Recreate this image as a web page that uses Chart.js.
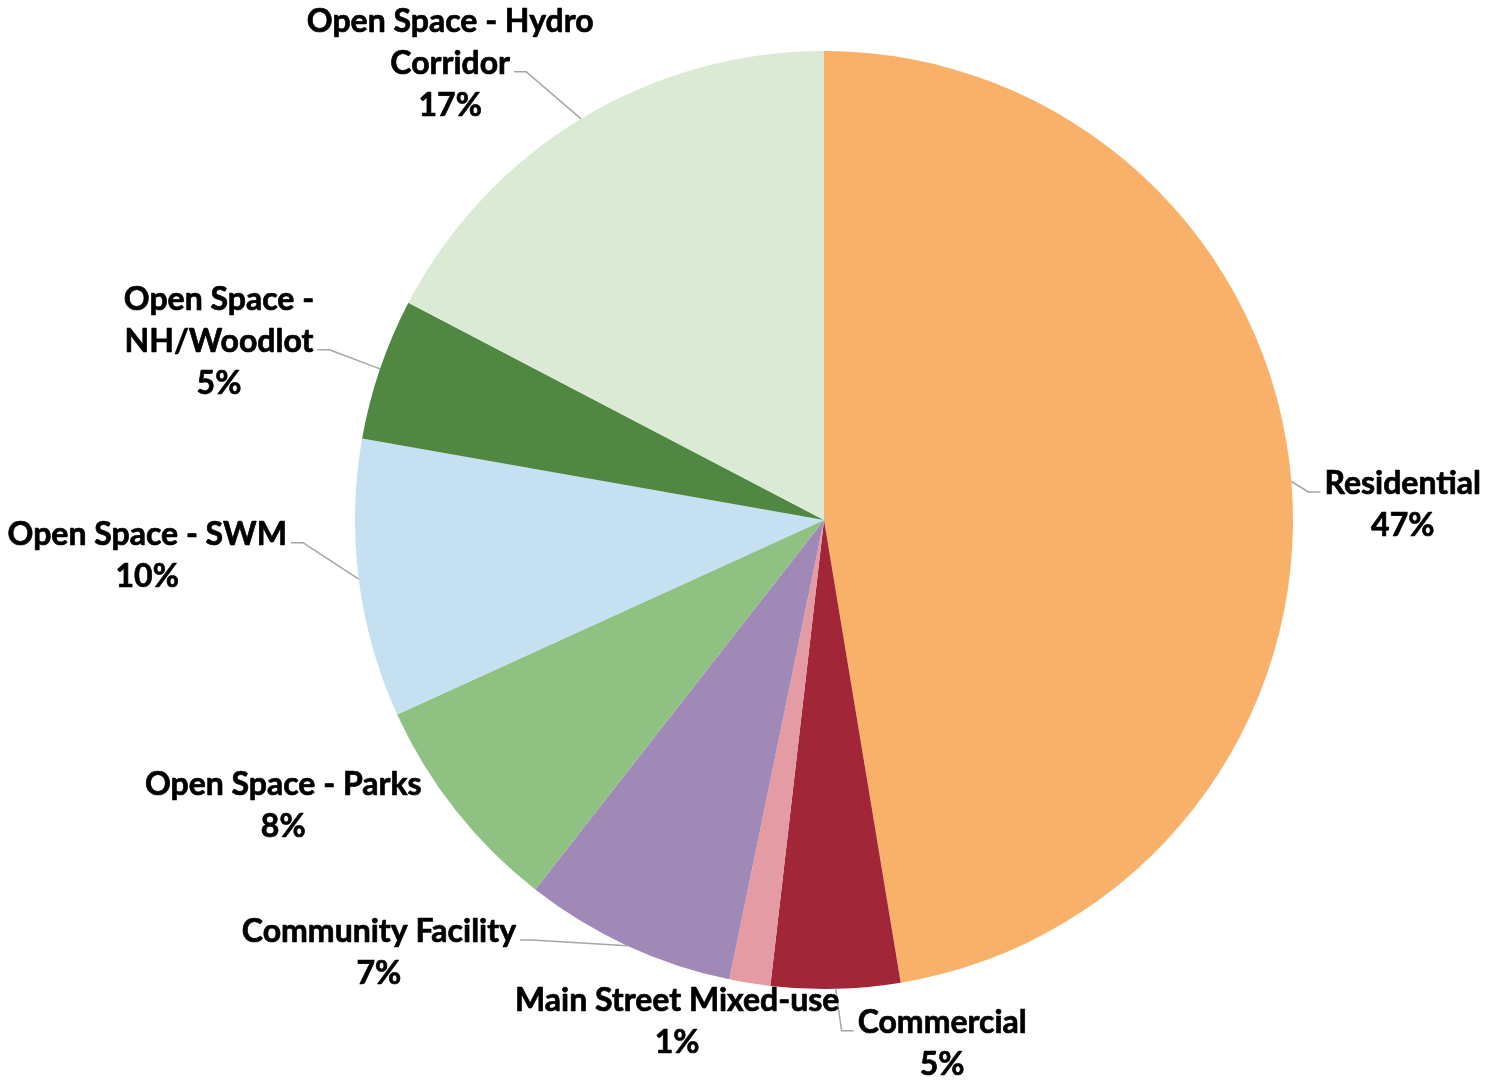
<!DOCTYPE html>
<html>
<head>
<meta charset="utf-8">
<script src="https://cdn.jsdelivr.net/npm/chart.js@4/dist/chart.umd.min.js"></script>
<style>
  html, body { margin: 0; padding: 0; background: #ffffff; }
  #wrap { width: 1485px; height: 1081px; }
</style>
</head>
<body>
<div id="wrap"><canvas id="c" width="1485" height="1081"></canvas></div>
<script>
// ---- data ----
const categories = ['Residential', 'Commercial', 'Main Street Mixed-use', 'Community Facility',
  'Open Space - Parks', 'Open Space - SWM', 'Open Space - NH/Woodlot', 'Open Space - Hydro Corridor'];
const shares = [47.38, 4.44, 1.41, 7.32, 7.64, 9.58, 4.89, 17.33];
const pctLabels = ['47%', '5%', '1%', '7%', '8%', '10%', '5%', '17%'];
const labelLines = [
  ['Residential'],
  ['Commercial'],
  ['Main Street Mixed-use'],
  ['Community Facility'],
  ['Open Space - Parks'],
  ['Open Space - SWM'],
  ['Open Space -', 'NH/Woodlot'],
  ['Open Space - Hydro', 'Corridor']
];
const colors = ['#F9B16A', '#A02638', '#E59BA3', '#A189B7', '#8FC183', '#C5E0F1', '#4F8743', '#DAEAD5'];

// ---- label layout (relative to pie centre, in units of radius) ----
const labelPos = [
  [1.234, -0.032], [0.252, 1.117], [-0.313, 1.070], [-0.949, 0.923],
  [-1.153, 0.610], [-1.443, 0.076], [-1.290, -0.380], [-0.797, -0.973]
];
const showLeader = [true, true, false, true, false, true, true, true];
const FONT = 'bold 32px Lato, "Open Sans", sans-serif';
const LH = 42;

const outLabels = {
  id: 'outLabels',
  afterDatasetsDraw(chart) {
    const ctx = chart.ctx;
    const meta = chart.getDatasetMeta(0);
    ctx.save();
    ctx.font = FONT;
    ctx.fillStyle = '#000000';
    ctx.textAlign = 'center';
    ctx.textBaseline = 'middle';
    meta.data.forEach((arc, i) => {
      const p = arc.getProps(['x', 'y', 'outerRadius', 'startAngle', 'endAngle'], true);
      const mid = (p.startAngle + p.endAngle) / 2;
      const ax = p.x + p.outerRadius * Math.cos(mid);
      const ay = p.y + p.outerRadius * Math.sin(mid);
      const lines = labelLines[i].concat([pctLabels[i]]);
      const lx = p.x + labelPos[i][0] * p.outerRadius;
      const ly = p.y + labelPos[i][1] * p.outerRadius;
      const top = ly - LH * lines.length / 2;
      ctx.strokeStyle = '#000000';
      ctx.lineWidth = 0.7;
      ctx.lineJoin = 'round';
      lines.forEach((t, k) => {
        ctx.fillText(t, lx, top + LH * (k + 0.5));
        ctx.strokeText(t, lx, top + LH * (k + 0.5));
      });
      if (showLeader[i]) {
        const k = Math.floor((lines.length - 1) / 2);
        const w = ctx.measureText(lines[k]).width;
        const yy = top + LH * (k + 0.5) + 8;
        const rightSide = ax > lx;
        const x0 = rightSide ? lx + w / 2 + 4 : lx - w / 2 - 4;
        const x1 = rightSide ? x0 + 12 : x0 - 12;
        ctx.beginPath();
        ctx.moveTo(x0, yy);
        ctx.lineTo(x1, yy);
        ctx.lineTo(ax, ay);
        ctx.strokeStyle = '#A6A6A6';
        ctx.lineWidth = 1.5;
        ctx.stroke();
      }
    });
    ctx.restore();
  }
};

new Chart(document.getElementById('c'), {
  type: 'pie',
  data: {
    labels: categories,
    datasets: [{ data: shares, backgroundColor: colors, borderWidth: 0 }]
  },
  options: {
    responsive: false,
    animation: false,
    layout: { padding: { left: 355, right: 192, top: 51, bottom: 92 } },
    plugins: { legend: { display: false }, tooltip: { enabled: false } }
  },
  plugins: [outLabels]
});
</script>
</body>
</html>
